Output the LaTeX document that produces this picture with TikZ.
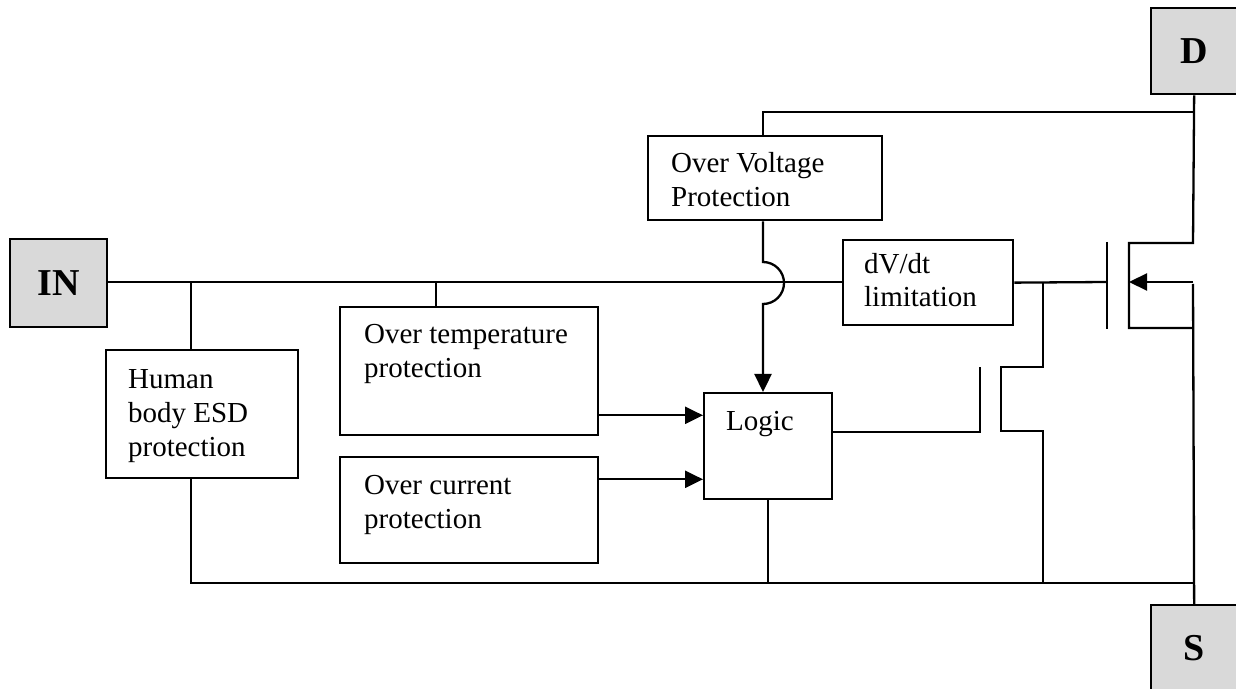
\documentclass[tikz,border=0pt]{standalone}
\usepackage{fontspec}
\setmainfont{Liberation Serif}
\usetikzlibrary{arrows.meta}
\definecolor{termgray}{HTML}{D9D9D9}
\begin{document}
\begin{tikzpicture}[x=0.5pt,y=-0.5pt,line width=1.15pt,
  blk/.style={draw,rectangle,inner sep=0pt,anchor=north west},
  term/.style={draw,fill=termgray,rectangle,inner sep=0pt,anchor=north west,
    minimum width=43pt,font=\fontsize{19}{22}\selectfont\bfseries},
  txt/.style={inner sep=0pt,anchor=base west,align=left,
    font=\fontsize{14.5}{17}\selectfont},
  arr/.style={-{Triangle[length=9pt,width=8.5pt]}}]
\useasboundingbox (0,0) rectangle (1236,689);
% terminals
\node[term,minimum width=48.5pt,minimum height=44pt] (in) at (9,238) {IN};
\node[term,minimum height=43pt] (d) at (1150,7) {D};
\node[term,minimum height=43pt] (s) at (1150,604) {S};
% blocks
\node[blk,minimum width=96pt,minimum height=64pt] (hb) at (105,349) {};
\node[blk,minimum width=129pt,minimum height=64pt] (ot) at (339,306) {};
\node[blk,minimum width=129pt,minimum height=53pt] (oc) at (339,456) {};
\node[blk,minimum width=64pt,minimum height=53pt] (lg) at (703,392) {};
\node[blk,minimum width=117pt,minimum height=42pt] (ov) at (647,135) {};
\node[blk,minimum width=85pt,minimum height=42.5pt] (dv) at (842,239) {};
% texts (anchored at the baseline of their last line)
\node[txt] (hbt) at (127,456) {Human\\body ESD\\protection};
\node[txt] (ott) at (363,378) {Over temperature\\protection};
\node[txt] (oct) at (363,528) {Over current\\protection};
\node[txt] (lgt) at (725,430) {Logic};
\node[txt] (ovt) at (670,207) {Over Voltage\\Protection};
\node[txt] (dvt) at (863,307) {dV/dt\\limitation};
% junction coordinates
\coordinate (j1) at (191,282);
\coordinate (j2) at (436,282);
\coordinate (jt) at (763,112);
\coordinate (jg) at (1043,282);
\coordinate (bot) at (1193,583);
\coordinate (g2) at (980,432);
% input line
\draw (in.east |- j1) -- (dv.west |- j1);
\draw (j1) -- (j1 |- hb.north);
\draw (j2) -- (j2 |- ot.north);
% over voltage
\draw (jt |- ov.north) -- (jt) -- (jt -| d.south);
\draw[arr] (jt |- ov.south) -- (763,262) arc[start angle=90,end angle=-90,radius=10.5pt] -- (jt |- lg.north);
% arrows into logic
\coordinate (t1) at ([yshift=10.5pt]ot.south east);
\draw[arr] (t1) -- (t1 -| lg.west);
\coordinate (c1) at ([yshift=10.5pt]lg.south west);
\draw[arr] (c1 -| oc.east) -- (c1);
% logic to small transistor
\draw (g2 -| lg.east) -- (g2) -- (980,367);
\draw (jg) -- (1043,367) -- (1001,367) -- (1001,431) -- (1043,431) -- (jg |- bot);
% bottom line
\draw (j1 |- hb.south) -- (j1 |- bot) -- (bot);
\draw (lg.south) -- (lg.south |- bot);
% MOSFET
\draw (dv.east) -- (1107,282);
\draw (1107,242) -- (1107,329);
\draw (d.south) -- (1193,243) -- (1129,243) -- (1129,328) -- (1193,328);
\draw[arr] (1193,282) -- (1129,282);
\draw (1193,284) -- (s.north);
\end{tikzpicture}
\end{document}
